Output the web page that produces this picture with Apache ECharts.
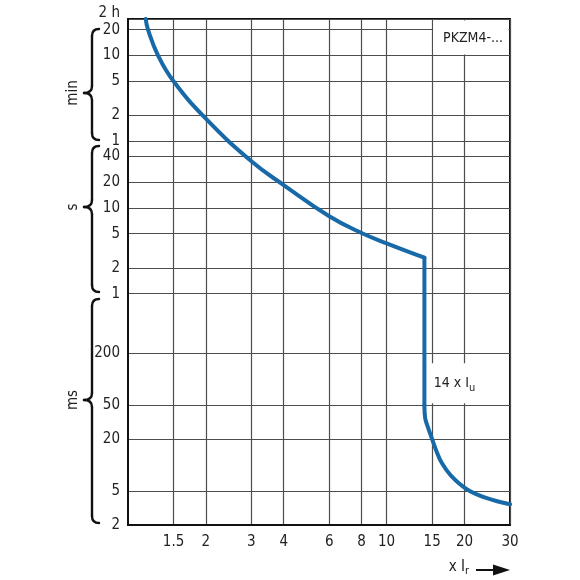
<!DOCTYPE html>
<html>
<head>
<meta charset="utf-8">
<script src="https://cdn.jsdelivr.net/npm/echarts@6/dist/echarts.min.js"></script>
<style>html,body{margin:0;padding:0;background:#fff}#chart{width:580px;height:580px}</style>
</head>
<body>
<div id="chart"></div>
<script>
// multiples of the rated current (log axis)
var xTicks = [1.5, 2, 3, 4, 6, 8, 10, 15, 20, 30]
var xMin = 1, xMax = 30
// tripping time in seconds (log axis)
var yTicks = [0.002, 0.005, 0.02, 0.05, 0.2, 1, 2, 5, 10, 20, 40, 60, 120, 300, 600, 1200, 1600]
var yTickLabels = ['2', '5', '20', '50', '200', '1', '2', '5', '10', '20', '40', '1', '2', '5', '10', '20', '2 h']
// the scale is cut just above 20 min, the top edge is labelled 2 h
var yMin = 0.002, yMax = 1600

// overload release
var overloadX = [1.171, 1.195, 1.307, 1.5, 2, 3, 4, 6, 8, 10, 14]
var overloadT = [1600, 1200, 600, 300, 110, 35, 18.5, 8.0, 5.1, 3.87, 2.63]
// short-circuit release at 14 x Iu
var shortX = [14, 14]
var shortT = [2.63, 0.05]
var instX = [14, 14.1, 14.4, 15, 15.55, 16.33, 17.77, 20.48, 24.4, 30]
var instT = [0.05, 0.0352, 0.0285, 0.02, 0.0148, 0.01064, 0.00748, 0.0052, 0.00412, 0.00349]

var log = Math.log10
var font = "'Liberation Sans Narrow', 'DejaVu Sans Condensed', 'Open Sans', sans-serif"
var textColor = '#222'
var lineColor = '#1769a7'

function pts(xs, ts) {
  return xs.map(function (x, i) { return [log(x), log(ts[i])] })
}
function nearest(list, v) {
  var best = 0
  for (var i = 1; i < list.length; i++) {
    if (Math.abs(log(list[i]) - v) < Math.abs(log(list[best]) - v)) best = i
  }
  return best
}
function curve(data, smooth) {
  return {
    type: 'line', data: data, smooth: smooth, symbol: 'none', silent: true,
    lineStyle: { color: lineColor, width: 4, cap: 'round', join: 'round' },
    z: 5
  }
}

var chart = echarts.init(document.getElementById('chart'))

var option = {
  animation: false,
  grid: { left: 128, right: 70, top: 19, bottom: 55, show: true, borderColor: '#111', borderWidth: 2 },
  xAxis: {
    type: 'value', min: log(xMin), max: log(xMax),
    axisLine: { show: true, onZero: false, lineStyle: { color: '#111', width: 2 } },
    axisTick: { show: false, customValues: xTicks.map(log) },
    axisLabel: {
      customValues: xTicks.map(log),
      formatter: function (v) { return String(xTicks[nearest(xTicks, v)]) },
      fontFamily: font, fontSize: 15, color: textColor, margin: 10
    },
    splitLine: { show: true, lineStyle: { color: '#4d4d4d', width: 1.2 } }
  },
  yAxis: {
    type: 'value', min: log(yMin), max: log(yMax),
    axisLine: { show: true, onZero: false, lineStyle: { color: '#111', width: 2 } },
    axisTick: { show: false, customValues: yTicks.map(log) },
    axisLabel: {
      customValues: yTicks.map(log),
      formatter: function (v) {
        var i = nearest(yTicks, v)
        if (i === yTicks.length - 1) return '{top|' + yTickLabels[i] + '}'
        return yTickLabels[i]
      },
      rich: { top: { fontFamily: font, fontSize: 15, color: textColor, padding: [0, 0, 12, 0] } },
      fontFamily: font, fontSize: 15, color: textColor, margin: 8
    },
    splitLine: { show: true, lineStyle: { color: '#4d4d4d', width: 1.2 } }
  },
  series: [
    curve(pts(overloadX, overloadT), 0.45),
    curve(pts(shortX, shortT), false),
    curve(pts(instX, instT), 0.4)
  ]
}
chart.setOption(option)

function px(x, t) { return chart.convertToPixel({ gridIndex: 0 }, [log(x), log(t)]) }

var graphics = []
var ink = { stroke: '#111', lineWidth: 2.4, lineCap: 'round', fill: null }

// curly braces grouping the time labels
function brace(top, bottom, tip) {
  var xe = 99, xv = 92, xt = 84, r = 7
  var parts = [
    { type: 'bezierCurve', shape: { x1: xe, y1: top, cpx1: xv, cpy1: top, x2: xv, y2: top + r } },
    { type: 'line', shape: { x1: xv, y1: top + r, x2: xv, y2: tip - r } },
    { type: 'bezierCurve', shape: { x1: xv, y1: tip - r, cpx1: xv, cpy1: tip, x2: xt, y2: tip } },
    { type: 'bezierCurve', shape: { x1: xt, y1: tip, cpx1: xv, cpy1: tip, x2: xv, y2: tip + r } },
    { type: 'line', shape: { x1: xv, y1: tip + r, x2: xv, y2: bottom - r } },
    { type: 'bezierCurve', shape: { x1: xv, y1: bottom - r, cpx1: xv, cpy1: bottom, x2: xe, y2: bottom } }
  ]
  parts.forEach(function (p) {
    p.z = 10
    p.silent = true
    p.style = ink
    graphics.push(p)
  })
}
var groups = [
  { name: 'min', top: 29, bottom: 140, tip: 93 },
  { name: 's', top: 146, bottom: 292, tip: 207 },
  { name: 'ms', top: 299, bottom: 523, tip: 400 }
]
groups.forEach(function (g) {
  brace(g.top, g.bottom, g.tip)
  graphics.push({
    type: 'text', z: 10, silent: true, x: 73, y: g.tip, rotation: Math.PI / 2,
    style: { text: g.name, font: '15px ' + font, fill: textColor, align: 'center', verticalAlign: 'middle' }
  })
})

// label box in the top right corner
var a = px(15, yMax), b = px(30, 600)
graphics.push({
  type: 'rect', z: 10, silent: true,
  shape: { x: a[0] + 1, y: a[1] + 1.5, width: b[0] - a[0] - 2.5, height: b[1] - a[1] - 2.5 },
  style: { fill: '#fff' }
})
graphics.push({
  type: 'text', z: 11, silent: true, x: (a[0] + b[0]) / 2 + 2, y: 38,
  style: { text: 'PKZM4-...', font: '14px ' + font, fill: textColor, align: 'center', verticalAlign: 'middle' }
})

// 14 x Iu label
var c = px(20, 0.09)
graphics.push({
  type: 'text', z: 11, silent: true, x: c[0] - 10, y: c[1],
  style: {
    text: '{a|14 x I}{s|u}', align: 'center', verticalAlign: 'middle',
    backgroundColor: '#fff', padding: [10, 3, 10, 3],
    rich: {
      a: { font: '14px ' + font, fill: textColor },
      s: { font: '11px ' + font, fill: textColor, padding: [9, 0, 0, 0] }
    }
  }
})

// x axis name with arrow
graphics.push({
  type: 'text', z: 11, silent: true, x: 459, y: 567,
  style: {
    text: '{a|x I}{s|r}', align: 'center', verticalAlign: 'middle',
    rich: {
      a: { font: '15px ' + font, fill: textColor },
      s: { font: '11px ' + font, fill: textColor, padding: [9, 0, 0, 0] }
    }
  }
})
graphics.push({
  type: 'line', z: 11, silent: true,
  shape: { x1: 476, y1: 570, x2: 496, y2: 570 },
  style: { stroke: '#111', lineWidth: 2 }
})
graphics.push({
  type: 'polygon', z: 11, silent: true,
  shape: { points: [[493, 564.5], [510, 570], [493, 575.5]] },
  style: { fill: '#111' }
})

chart.setOption({ graphic: graphics })
</script>
</body>
</html>
